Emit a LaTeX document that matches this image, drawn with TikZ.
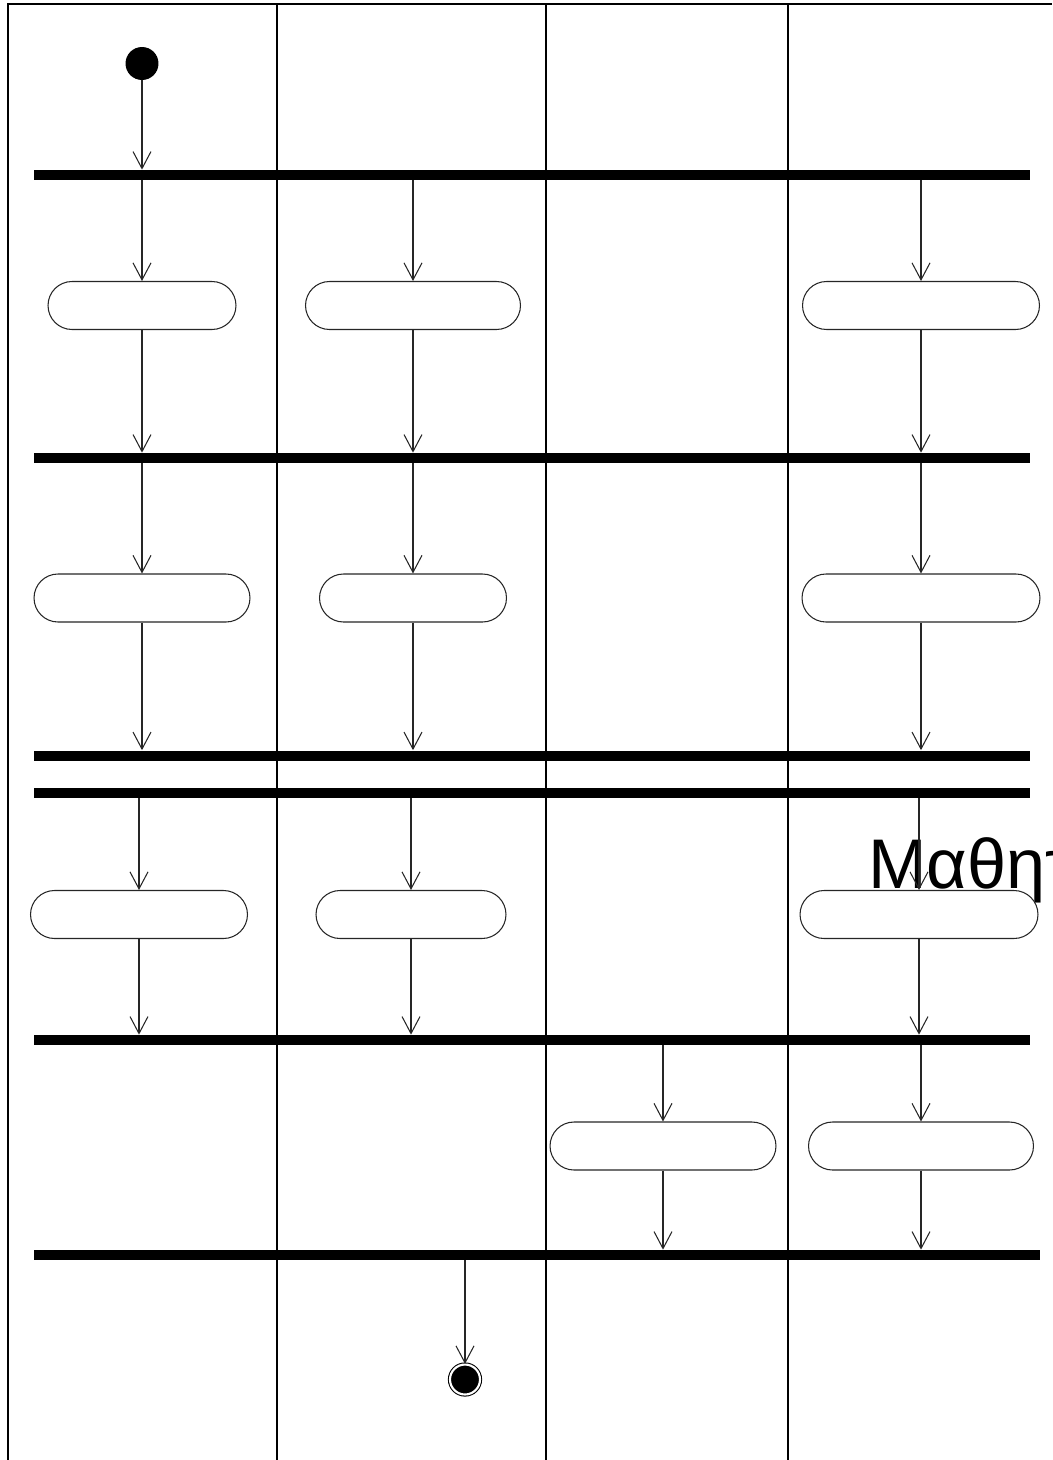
\documentclass[tikz,border=0pt]{standalone}
\usepackage{fontspec}
\newfontfamily\lanefont{Liberation Sans}
\usetikzlibrary{arrows.meta,positioning}

\begin{document}
\begin{tikzpicture}[x=0.02cm,y=-0.02cm,>={Straight Barb[length=3.4mm,width=3.6mm]}]
  \tikzset{
    lane/.style={line width=.8pt,draw=black},
    bar/.style={fill=black,inner sep=0pt,minimum height=2mm},
    act/.style={draw=black!85,fill=white,rounded corners=4.8mm,minimum height=9.6mm,
      inner sep=0pt,line width=.6pt},
    flow/.style={->,line width=.6pt,draw=black!85},
    startdot/.style={circle,fill=black,inner sep=0pt,minimum size=6.6mm},
    enddot/.style={circle,fill=black,draw=black,line width=.6pt,double=white,
      double distance=1.2pt,inner sep=0pt,minimum size=6mm}
  }
  \clip (0,0) rectangle (1052,1460);
  % swimlanes
  \draw[lane] (8,1460) -- (8,4) -- (1052,4);
  \foreach \x in {277,546,788} \draw[lane] (\x,4) -- (\x,1460);
  \node[font=\lanefont\fontsize{40}{48}\selectfont,anchor=base west,inner sep=0pt]
    (lanename) at (868,888) {Μαθητής};
  % start / end
  \node[startdot] (start) at (142,63.5) {};
  \node[enddot] (fin) at (465,1379.5) {};
  % synchronisation bars
  \node[bar,minimum width=19.92cm] (sync1) at (532,175) {};
  \node[bar,minimum width=19.92cm] (sync2) at (532,458) {};
  \node[bar,minimum width=19.92cm] (sync3) at (532,755.5) {};
  \node[bar,minimum width=19.92cm] (sync4) at (532,792.5) {};
  \node[bar,minimum width=19.92cm] (sync5) at (532,1040) {};
  \node[bar,minimum width=20.12cm] (sync6) at (537,1255) {};
  % activities
  \node[act,minimum width=3.76cm] (act11) at (142,305.5) {};
  \node[act,minimum width=4.30cm] (act12) at (413,305.5) {};
  \node[act,minimum width=4.74cm] (act14) at (921,305.5) {};
  \node[act,minimum width=4.32cm] (act21) at (142,598) {};
  \node[act,minimum width=3.74cm] (act22) at (413,598) {};
  \node[act,minimum width=4.76cm] (act24) at (921,598) {};
  \node[act,minimum width=4.34cm] (act31) at (139,914.5) {};
  \node[act,minimum width=3.80cm] (act32) at (411,914.5) {};
  \node[act,minimum width=4.76cm] (act34) at (919,914.5) {};
  \node[act,minimum width=4.52cm] (act43) at (663,1146) {};
  \node[act,minimum width=4.50cm] (act44) at (921,1146) {};
  % flows
  \draw[flow] (start) -- (sync1.north -| start);
  \foreach \a in {act11,act12,act14} {
    \draw[flow] (sync1.south -| \a) -- (\a.north);
    \draw[flow] (\a.south) -- (sync2.north -| \a);
  }
  \foreach \a in {act21,act22,act24} {
    \draw[flow] (sync2.south -| \a) -- (\a.north);
    \draw[flow] (\a.south) -- (sync3.north -| \a);
  }
  \foreach \a in {act31,act32,act34} {
    \draw[flow] (sync4.south -| \a) -- (\a.north);
    \draw[flow] (\a.south) -- (sync5.north -| \a);
  }
  \foreach \a in {act43,act44} {
    \draw[flow] (sync5.south -| \a) -- (\a.north);
    \draw[flow] (\a.south) -- (sync6.north -| \a);
  }
  \draw[flow] (sync6.south -| fin) -- (fin.north);
\end{tikzpicture}
\end{document}
